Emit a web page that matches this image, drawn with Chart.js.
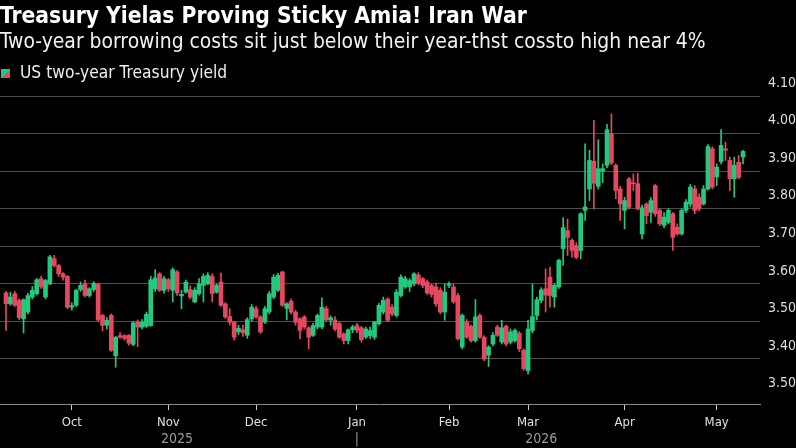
<!DOCTYPE html>
<html><head><meta charset="utf-8">
<script src="https://cdn.jsdelivr.net/npm/chart.js@4.4.0/dist/chart.umd.min.js"></script>
<style>
html,body{margin:0;padding:0;background:#000;width:796px;height:448px;overflow:hidden}
#wrap{position:relative;width:796px;height:448px}
#c{position:absolute;left:0;top:0}
.t{position:absolute;left:0;white-space:nowrap;color:#fff;line-height:1}
#title{top:4px;font-weight:bold;font-size:21px;font-family:'DejaVu Sans Condensed','DejaVu Sans',sans-serif}
#sub{top:31px;font-size:18px;font-family:'DejaVu Sans Condensed','DejaVu Sans',sans-serif;color:#f2f2f2}
#leg{top:64px;left:1px;font-size:15px;font-family:'DejaVu Sans Condensed','DejaVu Sans',sans-serif;color:#eee}
#leg i{display:inline-block;width:9px;height:9px;vertical-align:0px;margin-right:10px;background:linear-gradient(135deg,#22c97e 50%,#e5485f 50%)}
</style></head>
<body><div id="wrap">
<canvas id="c" width="796" height="448"></canvas>
<div class="t" id="title">Treasury Yielas Proving Sticky Amia! Iran War</div>
<div class="t" id="sub">Two-year borrowing costs sit just below their year-thst cossto high near 4%</div>
<div class="t" id="leg"><i></i>US two-year Treasury yield</div>
</div>
<script>
// ---- data (US two-year Treasury yield, daily candles) ----
const open = [3.576,3.547,3.574,3.556,3.507,3.525,3.565,3.574,3.614,3.565,3.600,3.667,3.649,3.627,3.620,3.538,3.543,3.585,3.600,3.569,3.585,3.600,3.516,3.490,3.516,3.409,3.462,3.462,3.463,3.439,3.498,3.485,3.487,3.489,
3.587,3.627,3.583,3.611,3.583,3.632,3.568,3.578,3.585,3.552,3.574,3.596,3.600,3.620,3.578,3.605,3.547,3.513,3.498,3.472,3.478,3.463,3.507,3.534,3.512,3.498,3.525,3.565,3.583,3.632,3.535,
3.554,3.525,3.507,3.512,3.483,3.463,3.485,3.485,3.534,3.504,3.504,3.494,3.467,3.449,3.478,3.489,3.483,3.458,3.462,3.458,3.494,3.525,3.560,3.538,3.516,3.569,3.592,3.592,3.600,3.624,3.614,3.605,3.596,
3.592,3.583,3.525,3.596,3.592,3.569,3.432,3.498,3.487,3.449,3.516,3.458,3.410,3.440,3.485,3.445,3.487,3.445,3.449,3.469,3.423,3.369,3.476,3.516,3.556,3.587,3.618,3.565,3.592,3.694,
3.742,3.716,3.702,3.689,3.796,3.853,3.927,3.860,3.900,3.916,4.000,3.916,3.853,3.796,3.880,3.869,3.867,3.733,3.813,3.791,3.862,3.796,3.756,3.764,3.787,3.751,3.733,3.796,3.813,3.853,3.831,3.813,3.853,3.960,3.885,3.926,3.960,3.929,3.880,3.924,3.938];
const high = [3.580,3.578,3.580,3.560,3.560,3.575,3.593,3.615,3.620,3.612,3.676,3.676,3.652,3.630,3.622,3.550,3.585,3.605,3.610,3.590,3.606,3.602,3.519,3.510,3.520,3.460,3.470,3.465,3.465,3.500,3.504,3.505,3.525,3.620,
3.638,3.630,3.620,3.615,3.643,3.636,3.583,3.610,3.595,3.590,3.614,3.627,3.630,3.627,3.600,3.629,3.550,3.534,3.500,3.490,3.490,3.510,3.545,3.540,3.515,3.540,3.580,3.625,3.628,3.634,3.550,
3.560,3.530,3.510,3.516,3.486,3.495,3.520,3.563,3.540,3.515,3.513,3.500,3.470,3.480,3.490,3.495,3.487,3.485,3.485,3.500,3.548,3.565,3.563,3.545,3.585,3.624,3.620,3.614,3.630,3.630,3.617,3.610,3.600,
3.602,3.590,3.600,3.605,3.600,3.575,3.520,3.505,3.490,3.558,3.520,3.462,3.435,3.470,3.490,3.503,3.490,3.480,3.480,3.473,3.427,3.503,3.600,3.565,3.590,3.640,3.645,3.600,3.666,3.776,
3.773,3.720,3.710,3.790,3.973,3.956,4.036,3.984,3.920,4.025,4.053,3.920,3.860,3.831,3.884,3.893,3.895,3.810,3.816,3.830,3.865,3.800,3.790,3.800,3.790,3.760,3.800,3.825,3.865,3.862,3.840,3.862,3.971,3.965,3.920,4.011,3.978,3.938,3.938,3.942,3.956];
const low = [3.476,3.543,3.540,3.505,3.469,3.520,3.560,3.570,3.588,3.560,3.598,3.645,3.620,3.610,3.534,3.530,3.540,3.580,3.565,3.565,3.580,3.500,3.475,3.480,3.420,3.378,3.455,3.450,3.437,3.435,3.433,3.480,3.484,3.487,
3.580,3.580,3.575,3.580,3.552,3.569,3.534,3.575,3.560,3.550,3.570,3.552,3.598,3.552,3.575,3.540,3.508,3.490,3.450,3.465,3.460,3.455,3.500,3.508,3.468,3.495,3.520,3.560,3.580,3.540,3.504,
3.520,3.490,3.454,3.480,3.427,3.460,3.480,3.480,3.500,3.490,3.475,3.455,3.440,3.440,3.470,3.470,3.445,3.455,3.455,3.452,3.490,3.520,3.500,3.515,3.512,3.565,3.588,3.580,3.595,3.598,3.590,3.572,3.565,
3.540,3.520,3.503,3.590,3.548,3.450,3.427,3.455,3.445,3.445,3.455,3.395,3.380,3.435,3.460,3.440,3.435,3.440,3.445,3.420,3.370,3.360,3.470,3.504,3.550,3.525,3.538,3.538,3.588,3.649,
3.676,3.671,3.667,3.667,3.769,3.822,3.800,3.853,3.870,3.910,3.918,3.827,3.769,3.747,3.800,3.849,3.797,3.720,3.760,3.764,3.780,3.755,3.750,3.760,3.689,3.730,3.730,3.790,3.805,3.787,3.795,3.810,3.850,3.853,3.862,3.920,3.929,3.849,3.831,3.880,3.920];
const close = [3.547,3.565,3.543,3.510,3.558,3.569,3.583,3.611,3.592,3.609,3.672,3.649,3.627,3.618,3.538,3.542,3.583,3.596,3.569,3.587,3.602,3.504,3.489,3.503,3.423,3.458,3.458,3.455,3.442,3.496,3.485,3.498,3.519,3.611,
3.616,3.583,3.614,3.587,3.638,3.576,3.572,3.605,3.565,3.583,3.600,3.620,3.623,3.574,3.596,3.543,3.512,3.498,3.458,3.482,3.470,3.505,3.538,3.512,3.472,3.534,3.574,3.618,3.623,3.543,3.547,
3.525,3.498,3.476,3.485,3.458,3.489,3.516,3.538,3.504,3.510,3.480,3.458,3.449,3.478,3.485,3.476,3.451,3.480,3.476,3.498,3.543,3.556,3.503,3.520,3.578,3.618,3.614,3.609,3.627,3.602,3.596,3.576,3.572,
3.547,3.525,3.578,3.600,3.552,3.454,3.516,3.458,3.449,3.512,3.458,3.400,3.432,3.463,3.463,3.483,3.440,3.472,3.476,3.427,3.374,3.480,3.513,3.558,3.584,3.570,3.569,3.596,3.663,3.750,
3.724,3.689,3.671,3.787,3.805,3.929,3.868,3.907,3.907,4.011,3.922,3.849,3.813,3.822,3.804,3.867,3.800,3.803,3.782,3.822,3.787,3.760,3.778,3.796,3.724,3.733,3.796,3.818,3.858,3.796,3.800,3.853,3.966,3.858,3.911,3.969,3.956,3.880,3.916,3.884,3.953];

// x-axis: month ticks (candle index) and labels
const monthIdx = [15, 37, 57, 80, 101, 119, 141, 162];
const monthLabels = ['Oct','Nov','Dec','Jan','Feb','Mar','Apr','May'];
const yearIdx = [39, 80, 122];
const yearLabels = ['2025','|','2026'];
// y-axis ticks (labels as printed in the source)
const yVals = [3.3, 3.4, 3.5, 3.6, 3.7, 3.8, 3.9, 4.0, 4.1];
const yLabels = ['3.50','3.40','3.50','3.60','3.70','3.80','3.90','4.00','4.10'];

// ---- fit title text widths ----
function fit(id, target){
  const el=document.getElementById(id);
  const fs=parseFloat(getComputedStyle(el).fontSize);
  const w=el.getBoundingClientRect().width;
  el.style.fontSize=(fs*target/w).toFixed(2)+'px';
}
fit('title',527); fit('sub',706); fit('leg',229);

const GREEN='#22c97e', RED='#e5485f';
const idx = open.map((_,i)=>i);
const cols = idx.map(i => close[i] >= open[i] ? GREEN : RED);

const yearPlugin = {
  id:'years',
  afterDraw(chart){
    const c=chart.ctx, xs=chart.scales.x;
    c.save();
    c.fillStyle='#9a9a9a';
    c.font="14px 'DejaVu Sans Condensed','DejaVu Sans',sans-serif";
    c.textAlign='center'; c.textBaseline='middle';
    yearIdx.forEach((v,i)=>c.fillText(yearLabels[i], xs.getPixelForValue(v), 439));
    c.restore();
  }
};

new Chart(document.getElementById('c'), {
  type:'bar',
  data:{datasets:[
    {data: idx.map(i=>({x:i,y:[low[i],high[i]]})), backgroundColor:cols, barThickness:1, grouped:false, order:2},
    {data: idx.map(i=>({x:i,y:[open[i],close[i]]})), backgroundColor:cols, barThickness:4, minBarLength:1, grouped:false, order:1}
  ]},
  options:{
    responsive:false, animation:false, devicePixelRatio:1,
    layout:{padding:{top:85,left:0,right:0,bottom:0}},
    plugins:{legend:{display:false}, tooltip:{enabled:false}},
    scales:{
      x:{type:'linear', min:-1.37, max:171.87, offset:false,
        afterBuildTicks:s=>{ s.ticks = monthIdx.map(v=>({value:v})); },
        afterFit:s=>{ s.height=44; },
        ticks:{ callback:(v,i)=>monthLabels[i], color:'#e0e0e0', autoSkip:false, maxRotation:0, padding:5,
          font:{family:"'DejaVu Sans Condensed','DejaVu Sans',sans-serif", size:13} },
        grid:{display:true, offset:false, drawOnChartArea:false, drawTicks:true, tickLength:6, color:'#cccccc', tickColor:'#cccccc', tickWidth:1},
        border:{color:'#8a8a8a'}
      },
      y:{position:'right', min:3.28, max:4.13,
        afterBuildTicks:s=>{ s.ticks = yVals.map(v=>({value:v})); },
        afterFit:s=>{ s.width=36; },
        ticks:{ callback:(v,i)=>yLabels[i], color:'#dddddd', labelOffset:-13, crossAlign:'far', padding:0,
          font:{family:"'DejaVu Sans Condensed','DejaVu Sans',sans-serif", size:14} },
        grid:{color:ctx => (ctx.tick && ctx.tick.value < 3.35) ? 'rgba(0,0,0,0)' : '#4d4d4d', drawTicks:false},
        border:{display:false}
      }
    }
  },
  plugins:[yearPlugin]
});
</script>
</body></html>
